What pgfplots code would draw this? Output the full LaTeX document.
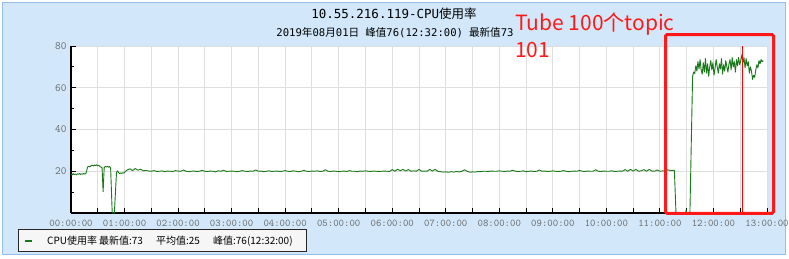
\documentclass[border=0pt]{standalone}
\usepackage{pgfplots}
\pgfplotsset{compat=1.18}
\usepackage{fontspec}
\newfontfamily\cjk{Noto Sans CJK SC}
\newfontfamily\mono{DejaVu Sans Mono}
\newcommand\m[1]{{\mono #1}}
\newcommand\cj[1]{{\cjk #1}}
\definecolor{panel}{RGB}{210,232,250}
\definecolor{panelborder}{RGB}{150,190,232}
\definecolor{cpugreen}{RGB}{25,120,25}
\definecolor{gridgray}{RGB}{222,222,222}
\definecolor{labelgray}{RGB}{105,105,105}
\definecolor{annot}{RGB}{255,25,25}
\definecolor{legfill}{RGB}{246,246,246}
\begin{document}
\begin{tikzpicture}
\useasboundingbox (0,0) rectangle (789pt,258pt);
\fill[white] (0,0) rectangle (789pt,258pt);
\filldraw[fill=panel,draw=panelborder,line width=1pt] (2.5pt,3.5pt) rectangle (785.5pt,255.5pt);
\begin{axis}[
  at={(71pt,45pt)}, anchor=south west, scale only axis,
  width=696pt, height=167pt,
  xmin=0, xmax=13, ymin=0, ymax=80,
  axis lines=left, axis line style={-, black, line width=1.2pt},
  xtick={0,0.5,...,13},
  xticklabels={00:00:00,,01:00:00,,02:00:00,,03:00:00,,04:00:00,,05:00:00,,06:00:00,,07:00:00,,08:00:00,,09:00:00,,10:00:00,,11:00:00,,12:00:00,,13:00:00},
  ytick={20,40,60,80}, minor ytick={10,30,50,70},
  tick align=inside, major tick length=5pt, minor tick length=3pt,
  tick style={black, line width=1pt},
  xmajorgrids, ymajorgrids, major grid style={gridgray, line width=1pt},
  axis background/.style={fill=white},
  xticklabel style={font=\fontsize{10.3}{11}\selectfont\ttfamily, text=labelgray, yshift=-3.5pt},
  yticklabel style={font=\fontsize{11}{11}\selectfont\ttfamily, text=labelgray, xshift=-1pt},
  /pgf/number format/assume math mode=true,
  legend style={at={(axis description cs:-0.0762,-0.2335)}, anchor=south west,
    draw=black!85, fill=legfill, line width=0.8pt,
    font=\cjk\fontsize{10}{11}\selectfont, inner ysep=4pt, inner xsep=6pt,
    /tikz/every odd column/.append style={column sep=12pt}},
  legend cell align=left,
  legend image code/.code={\draw[#1, line width=1.8pt] (0pt,0pt) -- (7pt,0pt);},
]
\addplot[cpugreen, line width=0.9pt, line join=round] coordinates {
(0.00,18.5)(0.02,18.2)(0.04,18.9)(0.06,18.4)(0.08,18.7)(0.10,18.3)(0.12,18.8)(0.14,18.6)(0.16,18.9)(0.18,18.5)
(0.20,18.8)(0.22,18.6)(0.24,18.9)(0.26,18.7)(0.28,19.0)(0.31,22.0)(0.33,22.4)(0.35,22.1)(0.37,22.6)(0.40,22.9)
(0.42,22.5)(0.44,23.0)(0.46,22.7)(0.48,23.1)(0.50,22.6)(0.52,22.8)(0.54,22.3)(0.56,22.0)(0.58,21.7)(0.60,10.2)
(0.62,21.8)(0.64,22.3)(0.66,22.0)(0.68,22.4)(0.70,21.9)(0.72,22.3)(0.74,21.6)(0.77,0)(0.81,0)(0.85,19.5)
(0.87,20.2)(0.89,19.3)(0.91,18.9)(0.93,19.2)(0.95,19.0)(0.97,19.3)(0.99,19.1)(1.01,19.8)
(1.05,20.6)(1.10,21.2)(1.15,20.3)(1.20,21.3)(1.25,20.5)(1.30,21.0)(1.35,20.2)(1.40,20.4)(1.45,20.1)(1.50,20.0)
(1.55,20.3)(1.60,19.9)(1.65,20.0)(1.70,20.2)(1.75,19.8)(1.80,20.1)(1.85,20.0)(1.90,19.9)(1.95,20.3)(2.00,20.1)
(2.05,20.0)(2.10,20.6)(2.15,20.0)(2.20,19.8)(2.25,20.0)(2.30,20.1)(2.35,19.9)(2.40,20.0)(2.45,20.4)(2.50,20.0)
(2.55,19.9)(2.60,20.1)(2.65,20.0)(2.70,19.7)(2.75,20.2)(2.80,20.0)(2.85,20.5)(2.90,19.9)(2.95,20.0)(3.00,20.1)
(3.05,20.0)(3.10,19.8)(3.15,20.0)(3.20,20.3)(3.25,20.0)(3.30,19.9)(3.35,20.1)(3.40,20.0)(3.45,20.6)(3.50,20.0)
(3.55,20.1)(3.60,19.8)(3.65,20.0)(3.70,20.2)(3.75,19.9)(3.80,20.0)(3.85,20.1)(3.90,19.9)(3.95,20.0)(4.00,20.3)
(4.05,20.0)(4.10,19.9)(4.15,20.2)(4.20,20.0)(4.25,19.8)(4.30,20.0)(4.35,20.4)(4.40,20.0)(4.45,19.9)(4.50,20.1)
(4.55,20.0)(4.60,20.2)(4.65,19.9)(4.70,20.0)(4.75,20.7)(4.80,20.0)(4.85,19.9)(4.90,20.1)(4.95,20.0)(5.00,19.8)
(5.05,20.0)(5.10,20.1)(5.15,19.9)(5.20,20.3)(5.25,20.0)(5.30,20.0)(5.35,19.8)(5.40,20.1)(5.45,20.0)(5.50,20.2)
(5.55,20.0)(5.60,19.9)(5.65,20.1)(5.70,20.0)(5.75,19.9)(5.80,20.0)(5.85,20.1)(5.90,20.0)(5.95,19.9)(6.00,20.8)
(6.05,20.0)(6.10,21.0)(6.15,20.2)(6.20,20.9)(6.25,20.1)(6.30,20.8)(6.35,20.0)(6.40,20.2)(6.45,20.0)(6.50,20.9)
(6.55,20.0)(6.60,20.1)(6.65,20.0)(6.70,20.9)(6.75,20.1)(6.80,20.9)(6.85,20.0)(6.90,19.8)(6.95,19.6)(7.00,19.7)
(7.05,19.5)(7.10,19.8)(7.15,19.6)(7.20,19.9)(7.25,19.7)(7.30,20.0)(7.35,20.7)(7.40,20.0)(7.45,19.5)(7.50,19.7)
(7.55,19.6)(7.60,19.9)(7.65,19.8)(7.70,20.0)(7.75,20.0)(7.80,19.9)(7.85,20.1)(7.90,20.0)(7.95,20.0)(8.00,20.2)
(8.05,20.0)(8.10,19.9)(8.15,20.1)(8.20,20.0)(8.25,20.5)(8.30,20.0)(8.35,19.9)(8.40,20.0)(8.45,20.2)(8.50,19.8)
(8.55,20.0)(8.60,20.1)(8.65,19.9)(8.70,20.0)(8.75,20.6)(8.80,20.0)(8.85,20.1)(8.90,19.9)(8.95,20.0)(9.00,20.2)
(9.05,20.0)(9.10,19.9)(9.15,20.0)(9.20,20.3)(9.25,20.0)(9.30,19.8)(9.35,20.0)(9.40,20.1)(9.45,20.0)(9.50,20.4)
(9.55,20.0)(9.60,19.9)(9.65,20.1)(9.70,20.0)(9.75,20.0)(9.80,20.7)(9.85,20.0)(9.90,19.9)(9.95,20.1)(10.00,20.0)
(10.05,20.0)(10.10,20.2)(10.15,19.9)(10.20,20.0)(10.25,20.1)(10.30,20.0)(10.35,20.8)(10.40,20.0)(10.45,20.9)(10.50,20.1)
(10.55,20.9)(10.60,20.0)(10.65,20.2)(10.70,20.8)(10.75,20.0)(10.80,20.9)(10.85,20.1)(10.90,20.0)(10.95,20.6)(11.00,20.0)
(11.05,20.2)(11.10,20.0)(11.15,20.7)(11.20,20.3)(11.25,20.5)(11.27,20.3)(11.30,0)(11.48,0)(11.49,1.5)(11.50,0)
(11.56,0)(11.61,65.5)(11.63,67.5)(11.65,66.8)(11.67,70.5)(11.69,68.0)(11.71,72.5)(11.73,69.0)(11.75,73.5)(11.77,68.5)
(11.79,66.5)(11.81,72.0)(11.83,67.5)(11.85,74.0)(11.87,67.0)(11.89,71.5)(11.91,65.5)(11.93,70.0)(11.95,73.0)(11.97,68.5)
(11.99,72.0)(12.01,66.0)(12.03,69.5)(12.05,73.5)(12.07,70.0)(12.09,67.0)(12.11,71.5)(12.13,69.0)(12.15,74.0)(12.17,66.5)
(12.19,71.0)(12.21,68.0)(12.23,73.0)(12.25,70.0)(12.27,67.5)(12.29,71.5)(12.31,73.5)(12.33,68.5)(12.35,74.5)(12.37,70.0)
(12.39,72.5)(12.41,67.5)(12.43,73.5)(12.45,70.5)(12.47,74.5)(12.49,71.0)(12.51,73.0)(12.533,76.0)(12.55,72.0)(12.57,74.5)
(12.59,69.5)(12.61,74.0)(12.63,70.5)(12.65,72.5)(12.67,67.0)(12.69,70.0)(12.71,68.0)(12.73,64.0)(12.75,66.0)(12.77,65.0)
(12.79,68.5)(12.81,71.0)(12.83,69.5)(12.85,73.0)(12.87,71.5)(12.89,73.5)(12.91,72.5)(12.93,73.0)
};
\addlegendentry{\makebox[52pt][l]{CPU使用率}\makebox[57pt][l]{最新值:73}\makebox[57pt][l]{平均值:25}\makebox[85pt][l]{峰值:76(12:32:00)}}
\addplot[red, line width=0.8pt, forget plot] coordinates {(12.533,0) (12.533,80)};
\end{axis}
\node[font=\fontsize{12.5}{14}\selectfont] at (394pt,244pt) {\m{10.55.216.119-CPU}\cj{使用率}};
\node[font=\fontsize{10.6}{12}\selectfont] at (395pt,225.5pt) {\m{2019}\cj{年}\m{08}\cj{月}\m{01}\cj{日}\hspace{6pt}\cj{峰值}\m{76(12:32:00)}\hspace{6pt}\cj{最新值}\m{73}};
\node[anchor=base west, text=annot, font=\cjk\fontsize{21}{24}\selectfont, inner sep=0pt] at (515pt,228pt) {Tube 100个topic};
\node[anchor=base west, text=annot, font=\cjk\fontsize{21}{24}\selectfont, inner sep=0pt] at (515pt,201pt) {101};
\draw[annot, line width=3pt, rounded corners=1.5pt] (665.5pt,44.7pt) rectangle (773.5pt,223.5pt);
\end{tikzpicture}
\end{document}
